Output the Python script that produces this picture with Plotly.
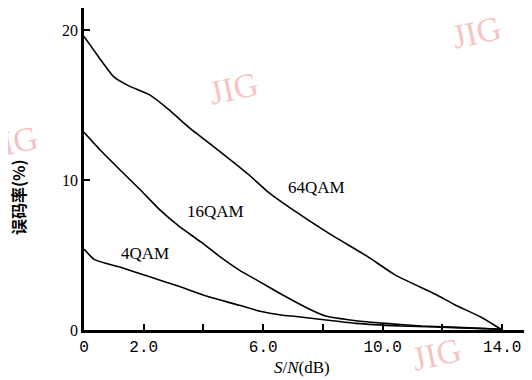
import plotly.graph_objects as go

# S/N (dB) sample points and error rate (%)
x_64 = [0, 0.5, 1.0, 1.5, 2.2, 2.85, 3.5, 4.5, 5.5, 6.2, 6.9, 8.2, 9.5, 10.4, 11.8, 12.4, 13.3, 14.0]
y_64 = [19.6, 18.2, 16.9, 16.3, 15.7, 14.7, 13.55, 12.0, 10.4, 9.15, 8.15, 6.45, 4.9, 3.7, 2.35, 1.7, 0.85, 0.0]

x_16 = [0, 0.55, 1.2, 1.9, 2.55, 3.2, 3.9, 4.55, 5.2, 5.9, 6.55, 7.5, 8.1, 9.1, 10.1, 11.3, 12.7, 14.0]
y_16 = [13.2, 12.0, 10.7, 9.33, 8.0, 6.9, 5.9, 4.9, 4.0, 3.2, 2.45, 1.44, 0.93, 0.62, 0.44, 0.27, 0.16, 0.05]

x_4 = [0, 0.35, 1.2, 2.2, 3.2, 4.2, 5.2, 5.9, 6.6, 7.1, 8.1, 9.1, 10.6, 12.4, 14.0]
y_4 = [5.4, 4.7, 4.2, 3.55, 2.9, 2.2, 1.65, 1.25, 1.0, 0.9, 0.67, 0.44, 0.27, 0.16, 0.05]

series_names = ["64QAM", "16QAM", "4QAM"]
label_x = [7.8, 4.4, 2.05]
label_y = [9.5, 7.9, 5.1]

x_tickvals = [0, 2, 4, 6, 8, 10, 12, 14]
x_ticktext = ["0", "2.0", "", "6.0", "", "10.0", "", "14.0"]
y_tickvals = [0, 10, 20]
y_ticktext = ["0", "10", "20"]

# page body has an 8px margin; shrink/shift the layout so it fits the window
OFF = 8
W, H = 532 - OFF, 380 - OFF
PL, PT, PW, PH = 84, 8, 448, 322  # plot box in screen pixels

fig = go.Figure()
for xs, ys, nm in [(x_64, y_64, series_names[0]), (x_16, y_16, series_names[1]), (x_4, y_4, series_names[2])]:
    fig.add_trace(go.Scatter(x=xs, y=ys, mode="lines", name=nm,
                             line=dict(color="black", width=1.6, shape="spline", smoothing=0.5),
                             showlegend=False))

for nm, lx, ly in zip(series_names, label_x, label_y):
    fig.add_annotation(x=lx, y=ly, text=nm, showarrow=False,
                       font=dict(family="Liberation Serif", size=17, color="black"))

def px(sx):
    return (sx - PL) / PW

def py(sy):
    return (PT + PH - sy) / PH

# watermark text (the left one is only partly visible in the reference)
for txt, tx, ty, ang in [("JIG", 233, 88, -12), ("JIG", 476, 32, -12),
                         ("IG", 20, 141, -12), ("JIG", 436, 354, -12)]:
    fig.add_annotation(xref="paper", yref="paper", x=px(tx), y=py(ty),
                       xanchor="center", yanchor="middle",
                       text=txt, showarrow=False, textangle=ang,
                       font=dict(family="Liberation Serif", size=34, color="rgba(240,120,120,0.45)"))

# axis titles
fig.add_annotation(xref="paper", yref="paper", x=px(18), y=py(197),
                   xanchor="center", yanchor="middle",
                   text="<b>误码率(%)</b>", showarrow=False, textangle=-90,
                   font=dict(family="Noto Sans CJK SC", size=16, color="black"))
fig.add_annotation(xref="paper", yref="paper", x=px(302), y=py(368),
                   xanchor="center", yanchor="middle",
                   text="<i>S</i>/<i>N</i>(dB)", showarrow=False,
                   font=dict(family="Liberation Serif", size=17, color="black"))

fig.update_layout(
    width=W, height=H,
    margin=dict(l=PL - OFF, r=W - (PL + PW - OFF), t=PT - OFF, b=H - (PT + PH - OFF),
                autoexpand=False),
    paper_bgcolor="white", plot_bgcolor="white",
    xaxis=dict(range=[0, 15], tickvals=x_tickvals, ticktext=x_ticktext,
               ticks="inside", ticklen=6, tickwidth=1.5, tickcolor="black",
               showline=True, linecolor="black", linewidth=3, showgrid=False, zeroline=False,
               tickfont=dict(family="Liberation Mono", size=16, color="black")),
    yaxis=dict(range=[0, 21.5], tickvals=y_tickvals, ticktext=y_ticktext,
               ticks="inside", ticklen=6, tickwidth=1.5, tickcolor="black",
               showline=True, linecolor="black", linewidth=2.5, showgrid=False, zeroline=False,
               tickfont=dict(family="Liberation Serif", size=16, color="black")),
)

fig.write_html("out.html")
